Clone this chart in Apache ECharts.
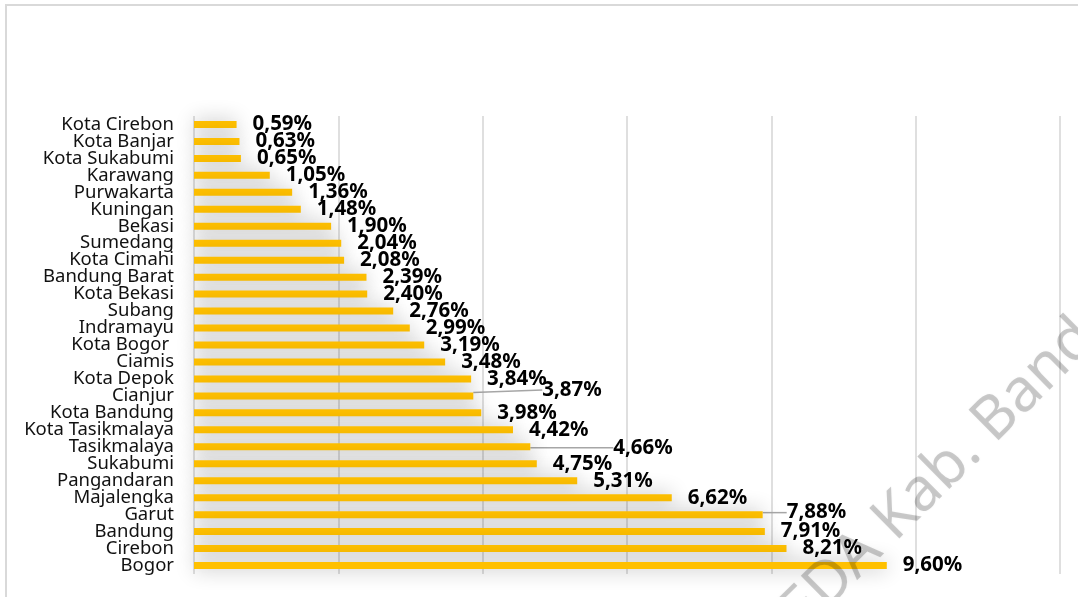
<!DOCTYPE html>
<html>
<head>
<meta charset="utf-8">
<style>
  html, body { margin: 0; padding: 0; background: #ffffff; }
  #chart { width: 1078px; height: 597px; }
</style>
<script src="https://cdn.jsdelivr.net/npm/echarts@6/dist/echarts.min.js"></script>
</head>
<body>
<div id="chart"></div>
<script>
// Regions of West Java, listed top to bottom
const regions = [
  'Kota Cirebon', 'Kota Banjar', 'Kota Sukabumi', 'Karawang', 'Purwakarta',
  'Kuningan', 'Bekasi', 'Sumedang', 'Kota Cimahi', 'Bandung Barat',
  'Kota Bekasi', 'Subang', 'Indramayu', 'Kota Bogor ', 'Ciamis',
  'Kota Depok', 'Cianjur', 'Kota Bandung', 'Kota Tasikmalaya', 'Tasikmalaya',
  'Sukabumi', 'Pangandaran', 'Majalengka', 'Garut', 'Bandung',
  'Cirebon', 'Bogor'
];

// Share per region, in percent
const shares = [
  0.59, 0.63, 0.65, 1.05, 1.36,
  1.48, 1.90, 2.04, 2.08, 2.39,
  2.40, 2.76, 2.99, 3.19, 3.48,
  3.84, 3.87, 3.98, 4.42, 4.66,
  4.75, 5.31, 6.62, 7.88, 7.91,
  8.21, 9.60
];

// Value axis range and step
const axisMin = 0;
const axisMax = 12;
const axisStep = 2;

// Labels pulled away from their bars (with a leader line), by region name
const movedLabels = {
  'Cianjur': [53, -6],
  'Tasikmalaya': [67, 1],
  'Garut': [8, -2]
};

const chart = echarts.init(document.getElementById('chart'));

const fmt = v => v.toFixed(2).replace('.', ',') + '%';

const barData = shares.map((v, i) =>
  movedLabels[regions[i]] ? { value: v, labelLine: { show: true } } : v
);

chart.setOption({
  animation: false,
  backgroundColor: '#ffffff',
  graphic: [
    {
      type: 'rect',
      shape: { x: 6, y: 5, width: 1100, height: 700 },
      style: { fill: 'none', stroke: '#d9d9d9', lineWidth: 2 },
      z: 0
    },
    {
      type: 'text',
      x: 925,
      y: 489,
      rotation: 0.78,
      style: {
        text: 'BAPPEDA Kab. Bandung',
        font: '60px "Noto Sans"',
        fill: 'rgba(0,0,0,0.2)',
        textAlign: 'center',
        textVerticalAlign: 'middle',
        textShadowColor: 'rgba(0,0,0,0.15)',
        textShadowBlur: 3
      },
      silent: true,
      z: 100
    }
  ],
  grid: {
    left: 194,
    right: 18,
    top: 116,
    bottom: 23,
    containLabel: false
  },
  xAxis: {
    type: 'value',
    min: axisMin,
    max: axisMax,
    interval: axisStep,
    axisLabel: { show: false },
    axisLine: { show: false },
    axisTick: { show: false },
    splitLine: { show: true, lineStyle: { color: '#d4d4d4', width: 1.5 } }
  },
  yAxis: {
    type: 'category',
    data: regions,
    inverse: true,
    axisLine: { show: false },
    axisTick: { show: false },
    axisLabel: {
      interval: 0,
      margin: 20,
      color: '#111111',
      fontFamily: 'Noto Sans',
      fontSize: 18.5,
      lineHeight: 17
    }
  },
  series: [
    {
      type: 'bar',
      data: barData,
      barWidth: 7,
      itemStyle: {
        color: '#ffc000',
        shadowBlur: 20,
        shadowColor: 'rgba(0,0,0,0.32)'
      },
      label: {
        show: true,
        position: 'right',
        distance: 16,
        formatter: p => fmt(p.value),
        color: '#000000',
        fontFamily: 'Noto Sans',
        fontWeight: 'bold',
        fontSize: 20.5
      },
      labelLine: {
        show: false,
        lineStyle: { color: '#a6a6a6', width: 1.5 }
      },
      labelLayout: function (params) {
        const name = regions[params.dataIndex];
        const off = movedLabels[name];
        if (off) {
          return { dx: off[0], dy: off[1] };
        }
        return {};
      }
    }
  ]
});
</script>
</body>
</html>
